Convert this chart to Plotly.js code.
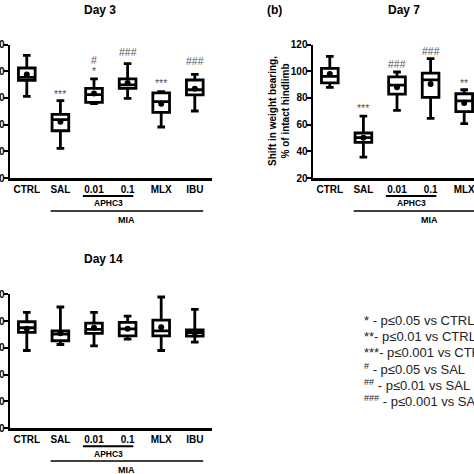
<!DOCTYPE html>
<html>
<head>
<meta charset="utf-8">
<script src="https://cdn.plot.ly/plotly-3.0.1.min.js"></script>
<style>
html, body { margin:0; padding:0; overflow:hidden; background:#fff; width:474px; height:474px; }
#chart { width:540px; height:474px; }
</style>
</head>
<body>
<div id="chart"></div>
<script>
// ---- data ----
const categories = ['CTRL','SAL','0.01','0.1','MLX','IBU'];

// Day 3
const d3_upper  = [111.8, 77.9, 94.2, 105.6, 84.6, 97.6];
const d3_q3     = [102.4, 67.6, 87.1, 94.2, 83.7, 93.4];
const d3_median = [95.4, 63.7, 82.5, 89.7, 77.2, 86.1];
const d3_q1     = [93.1, 55.4, 76.6, 87.1, 69.1, 82.2];
const d3_lower  = [81.1, 42.2, 75.7, 79.6, 58.2, 70.2];
const d3_mean   = [97.6, 62.2, 83.3, 91.2, 75.7, 86.9];

// Day 7 (IBU is cropped out of the picture)
const d7_cats   = ['CTRL','SAL','0.01','0.1','MLX'];
const d7_upper  = [111.1, 66.4, 99.4, 109.4, 86.1];
const d7_q3     = [102.1, 53.7, 95.7, 98.6, 83.1];
const d7_median = [96.1, 50.2, 89.5, 93.5, 77.7];
const d7_q1     = [91.2, 46.7, 82.9, 80.4, 69.7];
const d7_lower  = [87.9, 35.7, 70.6, 64.6, 60.7];
const d7_mean   = [97.9, 50.2, 87.9, 90.4, 76.2];

// Day 14
const d14_upper  = [106.5, 110.5, 106.5, 103.7, 118.0, 108.8];
const d14_q3     = [99.5, 92.7, 98.5, 99.0, 100.7, 93.3];
const d14_median = [95.0, 90.3, 93.8, 94.2, 92.7, 91.3];
const d14_q1     = [91.5, 85.3, 90.8, 89.0, 89.0, 88.8];
const d14_lower  = [78.0, 82.5, 81.5, 86.5, 78.0, 84.3];
const d14_mean   = [94.2, 90.8, 95.0, 94.2, 95.3, 91.3];

// significance marks
const d3_sig_cat  = ['SAL','0.01','0.01','0.1','MLX','IBU'];
const d3_sig_text = ['***','#','*','###','***','###'];
const d3_sig_y    = [84.9, 108.6, 102.4, 114.4, 93.6, 107.6];
const d7_sig_cat  = ['SAL','0.01','0.1','MLX'];
const d7_sig_text = ['***','###','###','**'];
const d7_sig_y    = [74.4, 105.6, 115.4, 93.1];

const yTicks = [20, 40, 60, 80, 100, 120];
const legendLines = [
  '* - p≤0.05 vs CTRL',
  '**- p≤0.01 vs CTRL',
  '***- p≤0.001 vs CTRL',
  '<sup>#</sup> - p≤0.05 vs SAL',
  '<sup>##</sup> - p≤0.01 vs SAL',
  '<sup>###</sup> - p≤0.001 vs SAL'
];

// ---- layout helpers ----
const W = 540, H = 474;
const FONT = 'Liberation Sans, Arial, sans-serif';
const px = x => x / W;
const py = y => 1 - y / H;

function boxTrace(xs, q1, med, q3, lo, hi, xa, ya) {
  return {
    type: 'box', x: xs, q1: q1, median: med, q3: q3,
    lowerfence: lo, upperfence: hi,
    xaxis: xa, yaxis: ya,
    fillcolor: '#ffffff',
    line: {color: '#000', width: 2.8},
    whiskerwidth: 0.46,
    boxpoints: false,
    hoverinfo: 'skip',
    showlegend: false
  };
}
function meanTrace(xs, m, xa, ya) {
  return {
    type: 'scatter', mode: 'markers', x: xs, y: m,
    xaxis: xa, yaxis: ya,
    marker: {color: '#000', size: 6},
    hoverinfo: 'skip', showlegend: false
  };
}

const data = [
  boxTrace(categories, d3_q1, d3_median, d3_q3, d3_lower, d3_upper, 'x', 'y'),
  meanTrace(categories, d3_mean, 'x', 'y'),
  boxTrace(d7_cats, d7_q1, d7_median, d7_q3, d7_lower, d7_upper, 'x2', 'y2'),
  meanTrace(d7_cats, d7_mean, 'x2', 'y2'),
  boxTrace(categories, d14_q1, d14_median, d14_q3, d14_lower, d14_upper, 'x3', 'y3'),
  meanTrace(categories, d14_mean, 'x3', 'y3')
];

function xAxis(x0, x1, anchor) {
  return {
    domain: [px(x0), px(x1)], anchor: anchor,
    type: 'category', categoryorder: 'array', categoryarray: categories,
    range: [-0.5, 5.5],
    showline: true, linewidth: 2.5, linecolor: '#000',
    ticks: '', showgrid: false, zeroline: false, fixedrange: true,
    tickfont: {family: FONT, size: 10, weight: 700, color: '#000'}
  };
}
function yAxis(yTop, yBot, anchor) {
  return {
    domain: [py(yBot), py(yTop)], anchor: anchor,
    range: [20, 120], tickmode: 'array', tickvals: yTicks,
    showline: true, linewidth: 2.5, linecolor: '#000',
    ticks: 'outside', ticklen: 4, tickwidth: 2, tickcolor: '#000',
    ticklabelstandoff: -3,
    showgrid: false, zeroline: false, fixedrange: true,
    tickfont: {family: FONT, size: 10, weight: 700, color: '#000'}
  };
}

const annotations = [];
const shapes = [];
function txt(x, y, text, size, opts) {
  annotations.push(Object.assign({
    xref: 'paper', yref: 'paper', x: px(x), y: py(y), text: text,
    showarrow: false, xanchor: 'center', yanchor: 'middle',
    font: {family: FONT, size: size, weight: 700, color: '#000'}
  }, opts || {}));
}

// titles
txt(100, 10, 'Day 3', 12);
txt(274, 10, '(b)', 12);
txt(404, 10, 'Day 7', 12);
txt(103, 259, 'Day 14', 12);

// y-axis title of panel b
txt(279, 111, 'Shift in weight bearing,<br>% of intact hindlimb', 10, {textangle: -90});

// group brackets
function bracket(xa, yLine1, yText1, yLine2, yText2) {
  shapes.push({type: 'line', xref: xa, yref: 'paper', x0: 1.67, x1: 3.17, y0: py(yLine1), y1: py(yLine1), line: {color: '#000', width: 2}});
  shapes.push({type: 'line', xref: xa, yref: 'paper', x0: 0.71, x1: 5.25, y0: py(yLine2), y1: py(yLine2), line: {color: '#000', width: 1.5}});
  annotations.push({xref: xa, yref: 'paper', x: 2.42, y: py(yText1), text: 'APHC3', showarrow: false, yanchor: 'middle',
    font: {family: FONT, size: 8.5, weight: 700, color: '#000'}});
  annotations.push({xref: xa, yref: 'paper', x: 2.98, y: py(yText2), text: 'MIA', showarrow: false, yanchor: 'middle',
    font: {family: FONT, size: 9, weight: 700, color: '#000'}});
}
bracket('x', 196, 203.5, 211, 220);
bracket('x2', 196, 203.5, 211, 220);
bracket('x3', 446.3, 453.7, 461, 469.7);

// significance marks (placed by category index on the category axis)
function sig(cats, texts, ys, xa, ya) {
  cats.forEach((c, i) => {
    annotations.push({xref: xa, yref: ya, x: categories.indexOf(c), y: ys[i], text: texts[i], showarrow: false,
      yanchor: 'middle', yshift: texts[i].indexOf('*') >= 0 ? -3 : 0,
      font: {family: FONT, size: 10.5, color: '#555'}});
  });
}
sig(d3_sig_cat, d3_sig_text, d3_sig_y, 'x', 'y');
sig(d7_sig_cat, d7_sig_text, d7_sig_y, 'x2', 'y2');

// legend text
const legendY = [320, 336, 352, 369, 385, 401];
legendLines.forEach((t, i) => {
  txt(362, legendY[i], t, 13, {xanchor: 'left', font: {family: FONT, size: 13, color: '#222'}});
});

const layout = {
  width: W, height: H,
  margin: {l: 0, r: 0, t: 0, b: 0},
  paper_bgcolor: '#fff', plot_bgcolor: '#fff',
  showlegend: false,
  boxgap: 0.29,
  xaxis: xAxis(10, 211.6, 'y'),
  yaxis: yAxis(44.5, 178, 'x'),
  xaxis2: xAxis(313, 514.6, 'y2'),
  yaxis2: yAxis(44.5, 178, 'x2'),
  xaxis3: xAxis(10, 211.6, 'y3'),
  yaxis3: yAxis(294.3, 428.1, 'x3'),
  annotations: annotations,
  shapes: shapes
};

Plotly.newPlot('chart', data, layout, {staticPlot: true, displayModeBar: false});
</script>
</body>
</html>
